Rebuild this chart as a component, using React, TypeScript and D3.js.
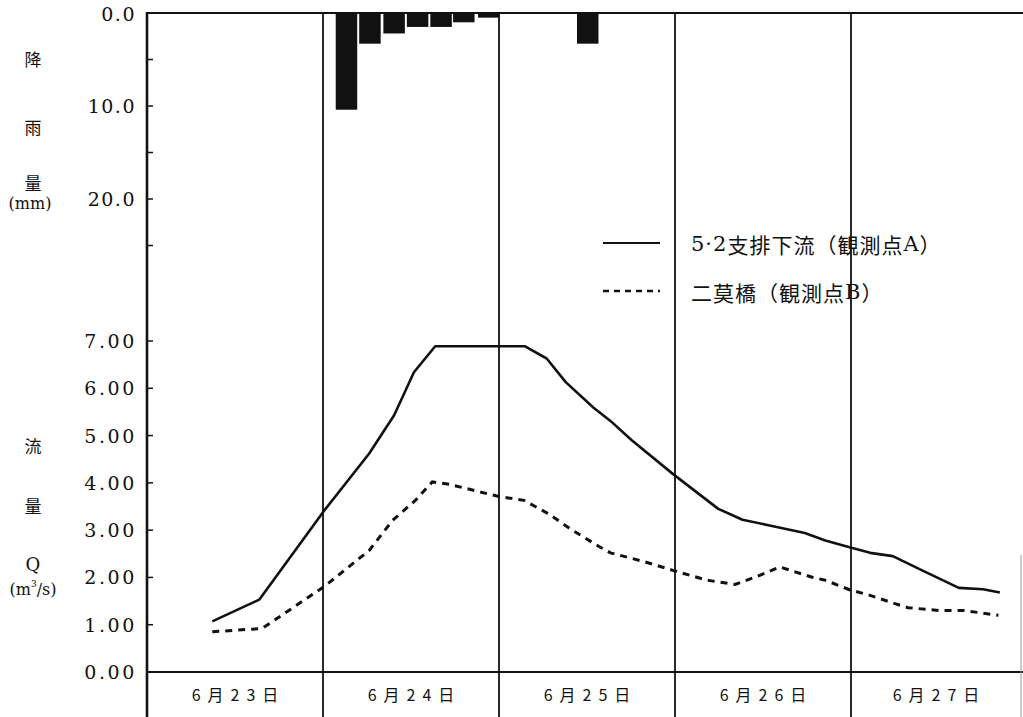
import React from "react";
import * as d3 from "d3";

// ---- data (hours counted from 6/23 00:00) ----
const dayLabels = ["6月23日", "6月24日", "6月25日", "6月26日", "6月27日"];
const rainTicks = [0, 10, 20];
const rainMinorTicks = [0, 5, 10, 15, 20, 25];
const flowTicks = [0, 1, 2, 3, 4, 5, 6, 7];

const rainHours = [27.2, 30.4, 33.7, 36.9, 40.1, 43.2, 46.6, 60.1];
const rainMm = [10.4, 3.3, 2.2, 1.5, 1.5, 1.0, 0.5, 3.3];

const flowAHours = [8.9, 15.3, 24.1, 30.3, 33.7, 36.4, 39.3, 51.5, 54.5, 57.1, 60.9, 63.2, 66.1, 71.7, 77.9, 81.2, 84.9, 89.7, 92.5, 95.8, 98.6, 101.7, 105.7, 110.7, 114.0, 116.3];
const flowA = [1.07, 1.53, 3.40, 4.62, 5.43, 6.34, 6.89, 6.89, 6.63, 6.13, 5.59, 5.31, 4.90, 4.19, 3.45, 3.22, 3.10, 2.94, 2.78, 2.64, 2.52, 2.45, 2.15, 1.78, 1.75, 1.68];

const flowBHours = [8.9, 15.7, 24.1, 30.3, 33.5, 36.6, 38.9, 41.2, 48.0, 51.4, 54.7, 58.0, 61.8, 63.2, 67.9, 71.7, 76.4, 80.2, 83.0, 86.3, 90.6, 92.5, 95.8, 98.6, 101.9, 103.8, 108.1, 111.4, 116.1];
const flowB = [0.85, 0.92, 1.80, 2.57, 3.21, 3.63, 4.02, 3.97, 3.71, 3.63, 3.35, 3.00, 2.64, 2.52, 2.33, 2.15, 1.94, 1.85, 2.01, 2.22, 2.01, 1.94, 1.74, 1.62, 1.45, 1.36, 1.30, 1.30, 1.20];

const seriesNames = ["5·2支排下流（観測点A）", "二莫橋（観測点B）"];

const W = 1023;
const H = 717;
const serif = "'DejaVu Serif', 'Liberation Serif', serif";
const cjk = "'Noto Sans CJK JP', 'Noto Sans CJK SC', sans-serif";

export default function App() {
  const x = d3.scaleLinear().domain([0, 120]).range([147, 1027]);
  const yRain = d3.scaleLinear().domain([0, 30]).range([13, 13 + 30 * 9.3]);
  const yFlow = d3.scaleLinear().domain([0, 7]).range([672, 341]);

  const line = d3
    .line<[number, number]>()
    .x((d) => x(d[0]))
    .y((d) => yFlow(d[1]))
    .curve(d3.curveLinear);

  const dataA: [number, number][] = flowAHours.map((h, i) => [h, flowA[i]]);
  const dataB: [number, number][] = flowBHours.map((h, i) => [h, flowB[i]]);

  const barW = x(2.93) - x(0);
  const dayEdges = d3.range(0, 6).map((d) => d * 24);
  const axisX = x(0);

  return (
    <svg
      width={W}
      height={H}
      viewBox={`0 0 ${W} ${H}`}
      style={{ position: "absolute", left: 0, top: 0, background: "#fff" }}
    >
      <rect x={0} y={0} width={W} height={H} fill="#fff" />

      {/* rain bars */}
      {rainHours.map((h, i) => (
        <rect
          key={"r" + i}
          x={x(h) - barW / 2}
          y={yRain(0)}
          width={barW}
          height={yRain(rainMm[i]) - yRain(0)}
          fill="#111"
        />
      ))}

      {/* top line */}
      <line x1={axisX} x2={W} y1={yRain(0)} y2={yRain(0)} stroke="#111" strokeWidth={2} />
      {/* bottom axis line */}
      <line x1={axisX} x2={W} y1={yFlow(0)} y2={yFlow(0)} stroke="#111" strokeWidth={2} />

      {/* day lines */}
      {dayEdges.slice(1).map((h) => (
        <line key={"d" + h} x1={x(h)} x2={x(h)} y1={yRain(0)} y2={H} stroke="#111" strokeWidth={1.8} />
      ))}
      <line x1={1021} x2={1021} y1={555} y2={H} stroke="#999" strokeWidth={1} />

      {/* left axis */}
      <line x1={axisX} x2={axisX} y1={yRain(0) - 1} y2={H} stroke="#111" strokeWidth={2.6} />
      {rainMinorTicks.map((t) => (
        <line key={"rt" + t} x1={axisX} x2={axisX + 6} y1={yRain(t)} y2={yRain(t)} stroke="#111" strokeWidth={1.5} />
      ))}
      {flowTicks.map((t) => (
        <line key={"ft" + t} x1={axisX} x2={axisX + 6} y1={yFlow(t)} y2={yFlow(t)} stroke="#111" strokeWidth={1.5} />
      ))}

      {/* tick labels */}
      {rainTicks.map((t) => (
        <text
          key={"rl" + t}
          x={136}
          y={yRain(t) + (t === 0 ? 1 : 0)}
          textAnchor="end"
          dominantBaseline="central"
          fontFamily={serif}
          fontSize={19}
          letterSpacing={1.5}
          fill="#111"
        >
          {t.toFixed(1)}
        </text>
      ))}
      {flowTicks.map((t) => (
        <text
          key={"fl" + t}
          x={137}
          y={yFlow(t)}
          textAnchor="end"
          dominantBaseline="central"
          fontFamily={serif}
          fontSize={19}
          letterSpacing={2.6}
          fill="#111"
        >
          {t.toFixed(2)}
        </text>
      ))}

      {/* axis titles */}
      <g fill="#111" textAnchor="middle" dominantBaseline="central">
        <text x={33} y={58} fontFamily={cjk} fontSize={17}>降</text>
        <text x={33} y={126} fontFamily={cjk} fontSize={17}>雨</text>
        <text x={33} y={182} fontFamily={cjk} fontSize={17}>量</text>
        <text x={30} y={203} fontFamily={serif} fontSize={16}>(mm)</text>
        <text x={33} y={445} fontFamily={cjk} fontSize={17}>流</text>
        <text x={33} y={505} fontFamily={cjk} fontSize={17}>量</text>
        <text x={33} y={564} fontFamily={serif} fontSize={18}>Q</text>
        <text x={33} y={589} fontFamily={serif} fontSize={16}>
          (m<tspan fontSize={9} dy={-5}>3</tspan>
          <tspan dy={5}>/s)</tspan>
        </text>
      </g>

      {/* flow lines */}
      <path d={line(dataA) || ""} fill="none" stroke="#111" strokeWidth={2.6} strokeLinejoin="round" />
      <path d={line(dataB) || ""} fill="none" stroke="#111" strokeWidth={3} strokeDasharray="7,6" />

      {/* day labels */}
      {dayLabels.map((lab, i) => (
        <text
          key={"dl" + i}
          x={(x(i * 24) + x(i * 24 + 24)) / 2 + 3.5 + (i === 4 ? -3 : 0)}
          y={694}
          textAnchor="middle"
          dominantBaseline="central"
          fontFamily={cjk}
          fontSize={16}
          letterSpacing={7}
          fill="#111"
        >
          {lab}
        </text>
      ))}

      {/* legend */}
      <line x1={603} x2={660} y1={243} y2={243} stroke="#111" strokeWidth={2} />
      <line x1={603} x2={660} y1={291} y2={291} stroke="#111" strokeWidth={2.4} strokeDasharray="6,5" />
      <text x={691} y={244} dominantBaseline="central" fontFamily={serif} fontSize={21} letterSpacing={1} fill="#111">
        <tspan fontFamily={serif}>5·2</tspan>
        <tspan fontFamily={cjk}>{seriesNames[0].slice(3, seriesNames[0].length - 2)}</tspan>
        <tspan fontFamily={serif}>A</tspan>
        <tspan fontFamily={cjk}>）</tspan>
      </text>
      <text x={691} y={292} dominantBaseline="central" fontFamily={cjk} fontSize={21} letterSpacing={1} fill="#111">
        <tspan fontFamily={cjk}>{seriesNames[1].slice(0, seriesNames[1].length - 2)}</tspan>
        <tspan fontFamily={serif}>B</tspan>
        <tspan fontFamily={cjk}>）</tspan>
      </text>
    </svg>
  );
}
